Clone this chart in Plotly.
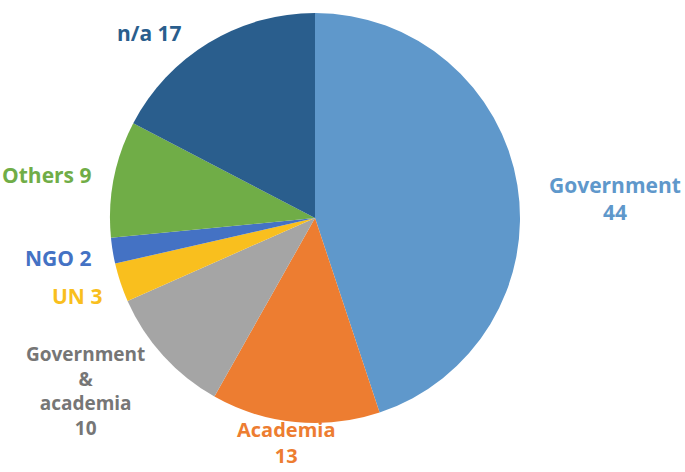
import plotly.graph_objects as go

categories = ["Government", "Academia", "Government & academia", "UN", "NGO", "Others", "n/a"]
values = [44, 13, 10, 3, 2, 9, 17]
label_lines = [["Government", "44"], ["Academia", "13"], ["Government", "&", "academia", "10"],
               ["UN 3"], ["NGO 2"], ["Others 9"], ["n/a 17"]]
slice_colors = ["#5F98CB", "#ED7D31", "#A5A5A5", "#F9BF1E", "#4472C4", "#70AD47", "#2A5E8D"]
label_colors = ["#5F98CB", "#ED7D31", "#767676", "#F9BF1E", "#4472C4", "#70AD47", "#2A5E8D"]

W, H = 685, 472
# label block centre positions in pixels and font sizes
label_pos = [(615, 198), (286, 442), (85, 391), (77, 296), (58, 258), (46, 175), (149, 33)]
label_size = [21, 20, 19, 21, 21, 21, 21]

fig = go.Figure(go.Pie(
    labels=categories, values=values, sort=False, direction="clockwise", rotation=0,
    marker=dict(colors=slice_colors, line=dict(width=0)),
    textinfo="none", hoverinfo="label+value",
    domain=dict(x=[(315 - 205) / W, (315 + 205) / W], y=[(254 - 205) / H, (254 + 205) / H]),
    showlegend=False,
))

for lines, col, (px, py), fs in zip(label_lines, label_colors, label_pos, label_size):
    fig.add_annotation(
        x=px / W, y=1 - py / H, xref="paper", yref="paper",
        text="<br>".join(lines), showarrow=False, align="center",
        font=dict(family="Open Sans", size=fs, color=col, weight="bold"),
        xanchor="center", yanchor="middle",
    )

fig.update_layout(width=W, height=H, margin=dict(l=0, r=0, t=0, b=0),
                  paper_bgcolor="white", plot_bgcolor="white")
fig.write_html("out.html", config={"displayModeBar": False},
               post_script="document.body.style.margin='0';document.body.style.padding='0';")
